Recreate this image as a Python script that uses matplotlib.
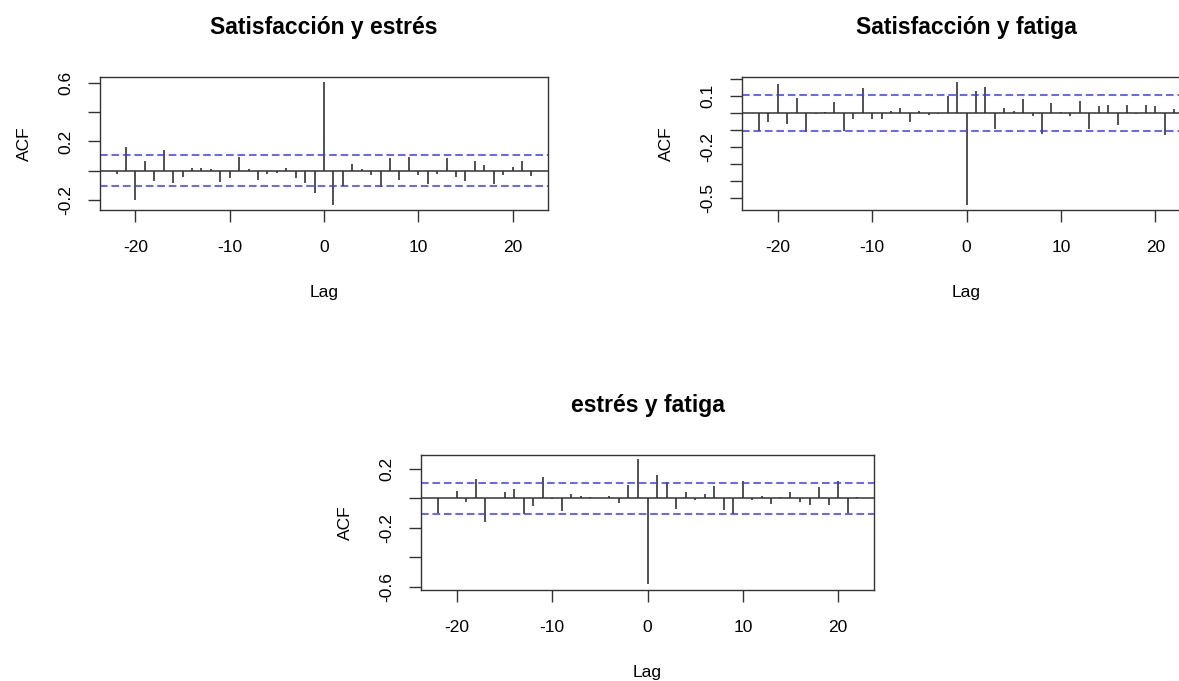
import numpy as np
import matplotlib
matplotlib.use("Agg")
import matplotlib.pyplot as plt

plt.rcParams['font.family'] = ['Liberation Sans', 'DejaVu Sans']
plt.rcParams['axes.unicode_minus'] = False

lags = np.arange(-22, 23)

sat_estres = [-0.023, 0.164, -0.200, 0.068, -0.070, 0.141, -0.086, -0.041, 0.020, 0.020,
              0.010, -0.080, -0.048, 0.091, 0.011, -0.064, -0.025, -0.014, 0.020, -0.048,
              -0.086, -0.150, 0.607, -0.234, -0.102, 0.043, 0.011, -0.030, -0.114, 0.084,
              -0.064, 0.091, -0.030, -0.093, -0.020, 0.084, -0.045, -0.070, 0.068, 0.036,
              -0.093, -0.030, 0.027, 0.068, -0.036]

sat_fatiga = [-0.108, -0.053, 0.169, -0.067, 0.084, -0.114, -0.010, 0.003, 0.065, -0.108,
              -0.039, 0.143, -0.039, -0.039, 0.010, 0.029, -0.053, 0.010, -0.014, -0.008,
              0.100, 0.182, -0.543, 0.127, 0.149, -0.094, 0.029, 0.010, 0.078, -0.018,
              -0.127, 0.059, 0.002, -0.018, 0.070, -0.094, 0.039, 0.045, -0.073, 0.045,
              -0.010, 0.045, 0.039, -0.133, 0.022]

estres_fatiga = [-0.097, 0.003, 0.052, -0.023, 0.131, -0.158, 0.002, 0.043, 0.066, -0.106,
                 -0.052, 0.147, -0.003, -0.084, 0.027, 0.018, 0.010, 0.003, 0.018, -0.034,
                 0.093, 0.264, -0.583, 0.158, 0.113, -0.070, 0.043, -0.014, 0.027, 0.084,
                 -0.079, -0.106, 0.118, -0.014, 0.018, -0.038, 0.011, 0.043, -0.023, -0.047,
                 0.075, -0.047, 0.118, -0.102, 0.011]

conf = 0.107
titles = ["Satisfacción y estrés", "Satisfacción y fatiga", "estrés y fatiga"]
xticks = [-20, -10, 0, 10, 20]

fig = plt.figure(figsize=(11.79, 6.81), dpi=100)

W, H = 1179, 681
def add_ax(x0, x1, y0, y1):
    return fig.add_axes([x0 / W, 1 - y1 / H, (x1 - x0) / W, (y1 - y0) / H])

ax1 = add_ax(100, 548, 76.7, 210)
ax2 = add_ax(742.3, 1190.8, 76.7, 210)
ax3 = add_ax(421, 874, 455, 590)

panels = [
    (ax1, sat_estres, (-0.268, 0.642), [-0.2, 0, 0.2, 0.4, 0.6], ['-0.2', '', '0.2', '', '0.6']),
    (ax2, sat_fatiga, (-0.572, 0.212), [-0.5, -0.4, -0.3, -0.2, -0.1, 0, 0.1, 0.2],
     ['-0.5', '', '', '-0.2', '', '', '0.1', '']),
    (ax3, estres_fatiga, (-0.622, 0.294), [-0.6, -0.4, -0.2, 0, 0.2], ['-0.6', '', '-0.2', '', '0.2']),
]

dark = '#333333'
for (ax, vals, ylim, yt, ytl), title in zip(panels, titles):
    ax.vlines(lags, 0, vals, color=dark, lw=1.2)
    ax.axhline(0, color=dark, lw=1.1)
    for c in (conf, -conf):
        ax.axhline(c, color='#3a3aff', lw=1.1, dashes=(5, 2.5))
    ax.set_xlim(-23.76, 23.76)
    ax.set_ylim(*ylim)
    ax.set_xticks(xticks)
    ax.set_xticklabels([str(t) for t in xticks], fontsize=12.5)
    ax.set_yticks(yt)
    ax.set_yticklabels(ytl, fontsize=12.5, rotation=90, va='center')
    ax.tick_params(axis='x', length=8.5, width=1.0, color=dark, pad=13)
    ax.tick_params(axis='y', length=8.5, width=1.0, color=dark, pad=11)
    for s in ax.spines.values():
        s.set_color(dark)
        s.set_linewidth(1.0)
    ax.set_title(title, fontsize=16.5, fontweight='bold', pad=31)
    ax.set_xlabel("Lag", fontsize=12.5)
    ax.set_ylabel("ACF", fontsize=12.5)
    w = ax.get_position().width * W
    h = ax.get_position().height * H
    ax.yaxis.set_label_coords(-68 / w, 0.5)
    ax.xaxis.set_label_coords(0.5, -75 / h)

fig.savefig("out.png", dpi=100)
